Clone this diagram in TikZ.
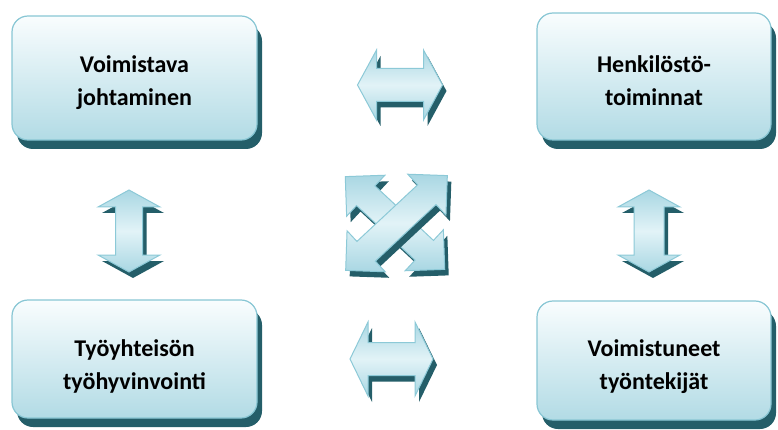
\documentclass[tikz,border=0pt]{standalone}
\usepackage{fontspec}
\setmainfont{Carlito}
\usetikzlibrary{shadows}
\definecolor{boxtop}{HTML}{F9FDFE}
\definecolor{boxbot}{HTML}{B2DBE5}
\definecolor{boxline}{HTML}{88C6D4}
\definecolor{shad}{HTML}{245E69}
\definecolor{arrtop}{HTML}{E2F3F7}
\definecolor{arrbot}{HTML}{A9D7E3}
\definecolor{arrline}{HTML}{8CC9D7}
\tikzset{
  box/.style={draw=boxline, line width=1.2pt, rounded corners=16pt,
    top color=boxtop, bottom color=boxbot, inner sep=0pt,
    drop shadow={shadow xshift=5pt, shadow yshift=-9pt, fill=shad, opacity=1}},
  boxtext/.style={font=\bfseries\fontsize{24}{33}\selectfont, align=center, text=black},
  arrface/.style={draw=arrline, line width=1pt, line join=miter,
    left color=arrbot, right color=arrbot, middle color=arrtop},
  arrshadow/.style={fill=shad},
}
% #1 name, #2 cx, #3 cy, #4 angle, #5 length, #6 head width, #7 shaft width, #8 head length
\newcommand\dblarrowpath[7]{%
  (-#4/2,0) -- (-#4/2+#7,#5/2) -- (-#4/2+#7,#6/2) -- (#4/2-#7,#6/2) -- (#4/2-#7,#5/2)
  -- (#4/2,0) -- (#4/2-#7,-#5/2) -- (#4/2-#7,-#6/2) -- (-#4/2+#7,-#6/2) -- (-#4/2+#7,-#5/2) -- cycle}
\newcommand\dblarrow[8]{%
  \begin{scope}[shift={(#2+4,#3+6)}, rotate=#4]
    \fill[arrshadow] (-#5/2,0) -- (-#5/2+#8,#6/2) -- (-#5/2+#8,#7/2) -- (#5/2-#8,#7/2) -- (#5/2-#8,#6/2)
      -- (#5/2,0) -- (#5/2-#8,-#6/2) -- (#5/2-#8,-#7/2) -- (-#5/2+#8,-#7/2) -- (-#5/2+#8,-#6/2) -- cycle;
  \end{scope}
  \coordinate (#1) at (#2,#3);
  \begin{scope}[shift={(#1)}, rotate=#4]
    \path[arrface, shading angle=0] (-#5/2,0) -- (-#5/2+#8,#6/2) -- (-#5/2+#8,#7/2) -- (#5/2-#8,#7/2) -- (#5/2-#8,#6/2)
      -- (#5/2,0) -- (#5/2-#8,-#6/2) -- (#5/2-#8,-#7/2) -- (-#5/2+#8,-#7/2) -- (-#5/2+#8,-#6/2) -- cycle;
  \end{scope}}
\begin{document}
\begin{tikzpicture}[x=1pt,y=-1pt]
\useasboundingbox (0,0) rectangle (778,430);
% boxes
\node[box, minimum width=245pt, minimum height=124pt] (tl) at (134.5,78) {};
\node[box, minimum width=234pt, minimum height=127pt] (tr) at (654,76.5) {};
\node[box, minimum width=245pt, minimum height=118pt] (bl) at (134.5,359) {};
\node[box, minimum width=234pt, minimum height=119pt] (br) at (654,360.5) {};
\node[boxtext] (tlt) at ([yshift=-5pt]tl.center) {Voimistava\\johtaminen};
\node[boxtext] (trt) at ([yshift=-4pt]tr.center) {Henkilöstö-\\toiminnat};
\node[boxtext] (blt) at ([yshift=-7pt]bl.center) {Työyhteisön\\työhyvinvointi};
\node[boxtext] (brt) at ([yshift=-6pt]br.center) {Voimistuneet\\työntekijät};
% arrows
\dblarrow{ah1}{400}{85}{0}{85}{70}{33}{19}
\dblarrow{ah2}{391.5}{359}{0}{83}{74}{33}{18}
\dblarrow{av1}{129}{231}{90}{82}{62}{27}{17}
\dblarrow{av2}{649}{231}{90}{82}{62}{30}{17}
\dblarrow{ad1}{395}{223}{-43}{136}{56}{27}{28}
\dblarrow{ad2}{396.5}{223}{43}{139}{56}{27}{28}
\end{tikzpicture}
\end{document}
